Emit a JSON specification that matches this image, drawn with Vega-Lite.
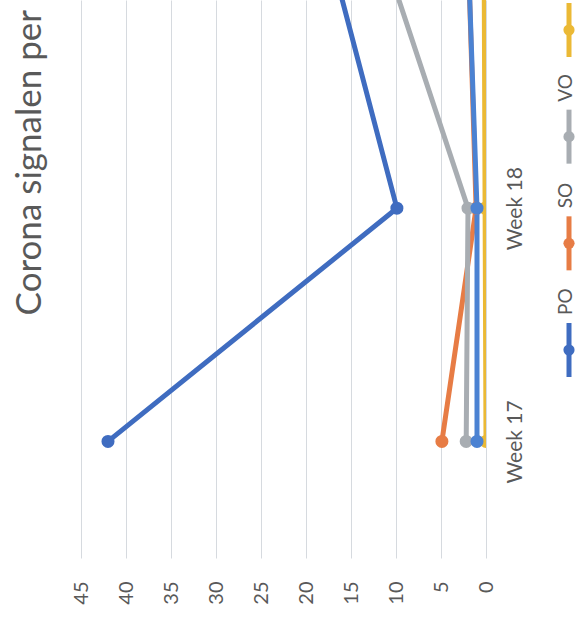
{
  "$schema": "https://vega.github.io/schema/vega-lite/v6.json",
  "background": "white",
  "padding": {"left": 12, "top": 0, "right": 0, "bottom": 0},
  "title": {
    "text": "Corona signalen per",
    "orient": "left",
    "anchor": "end",
    "font": "Lato",
    "fontSize": 35,
    "fontWeight": "normal",
    "color": "#595959",
    "offset": 23,
    "dx": -10
  },
  "datasets": {
    "series": [
      {"series": "PO", "week": 17, "value": 42},
      {"series": "PO", "week": 18, "value": 9.9},
      {"series": "PO", "week": 19, "value": 16.7},
      {"series": "SO", "week": 17, "value": 4.9},
      {"series": "SO", "week": 18, "value": 1.1},
      {"series": "SO", "week": 19, "value": 1.9},
      {"series": "VO", "week": 17, "value": 2.2},
      {"series": "VO", "week": 18, "value": 2.0},
      {"series": "VO", "week": 19, "value": 10.6},
      {"series": "MBO", "week": 17, "value": 0},
      {"series": "MBO", "week": 18, "value": 0.1},
      {"series": "MBO", "week": 19, "value": 0.2},
      {"series": "Overig", "week": 17, "value": 1.0},
      {"series": "Overig", "week": 18, "value": 1.0},
      {"series": "Overig", "week": 19, "value": 1.9}
    ],
    "legend": [
      {"series": "MBO", "label": ""},
      {"series": "VO", "label": "VO"},
      {"series": "SO", "label": "SO"},
      {"series": "PO", "label": "PO"}
    ]
  },
  "spacing": 31,
  "hconcat": [
    {
      "width": 405,
      "height": 558,
      "data": {"name": "series"},
      "encoding": {
        "x": {
          "field": "value",
          "type": "quantitative",
          "scale": {"domain": [0, 45], "reverse": true, "nice": false},
          "axis": {
            "orient": "bottom",
            "title": null,
            "values": [0, 5, 10, 15, 20, 25, 30, 35, 40, 45],
            "grid": true,
            "gridColor": "#d6dadf",
            "gridWidth": 1,
            "domain": false,
            "ticks": false,
            "labelAngle": 270,
            "labelAlign": "right",
            "labelBaseline": "middle",
            "labelPadding": 23,
            "labelFont": "Lato",
            "labelFontSize": 20,
            "labelColor": "#595959"
          }
        },
        "y": {
          "field": "week",
          "type": "quantitative",
          "scale": {"domain": [16.5, 18.893], "nice": false, "zero": false},
          "axis": {
            "orient": "right",
            "title": null,
            "values": [17, 18],
            "labelExpr": "'Week ' + datum.value",
            "grid": false,
            "domain": false,
            "ticks": false,
            "labelAngle": 270,
            "labelAlign": "center",
            "labelBaseline": "top",
            "labelPadding": 18,
            "labelFont": "Lato",
            "labelFontSize": 21,
            "labelColor": "#595959"
          }
        },
        "color": {
          "field": "series",
          "type": "nominal",
          "scale": {
            "domain": ["PO", "SO", "VO", "MBO", "Overig"],
            "range": ["#3f6cc0", "#e77c45", "#a8adb2", "#ebb935", "#4b82d2"]
          },
          "legend": null
        }
      },
      "layer": [
        {
          "mark": {"type": "line", "strokeWidth": 5, "clip": true},
          "encoding": {"order": {"field": "week", "type": "quantitative"}}
        },
        {
          "mark": {"type": "point", "filled": true, "size": 170, "opacity": 1, "clip": true}
        }
      ]
    },
    {
      "width": 12,
      "height": 380,
      "data": {"name": "legend"},
      "encoding": {
        "x": {"datum": 0, "type": "quantitative", "scale": {"domain": [-1, 1]}, "axis": null},
        "y": {
          "field": "series",
          "type": "nominal",
          "scale": {"type": "point", "domain": ["MBO", "VO", "SO", "PO"], "padding": 0.281},
          "axis": null
        },
        "color": {
          "field": "series",
          "type": "nominal",
          "scale": {
            "domain": ["PO", "SO", "VO", "MBO", "Overig"],
            "range": ["#3f6cc0", "#e77c45", "#a8adb2", "#ebb935", "#4b82d2"]
          },
          "legend": null
        }
      },
      "layer": [
        {
          "mark": {"type": "rule", "strokeWidth": 5, "yOffset": -27, "y2Offset": 27},
          "encoding": {"y2": {"field": "series"}}
        },
        {
          "mark": {"type": "point", "shape": "circle", "filled": true, "size": 125, "opacity": 1}
        },
        {
          "transform": [{"filter": "datum.label != ''"}],
          "mark": {"type": "text", "angle": 270, "align": "left", "baseline": "middle", "dx": 35, "dy": -3, "font": "Lato", "fontSize": 19},
          "encoding": {"text": {"field": "label"}, "color": {"value": "#595959"}}
        }
      ]
    }
  ],
  "config": {"view": {"stroke": null}}
}
